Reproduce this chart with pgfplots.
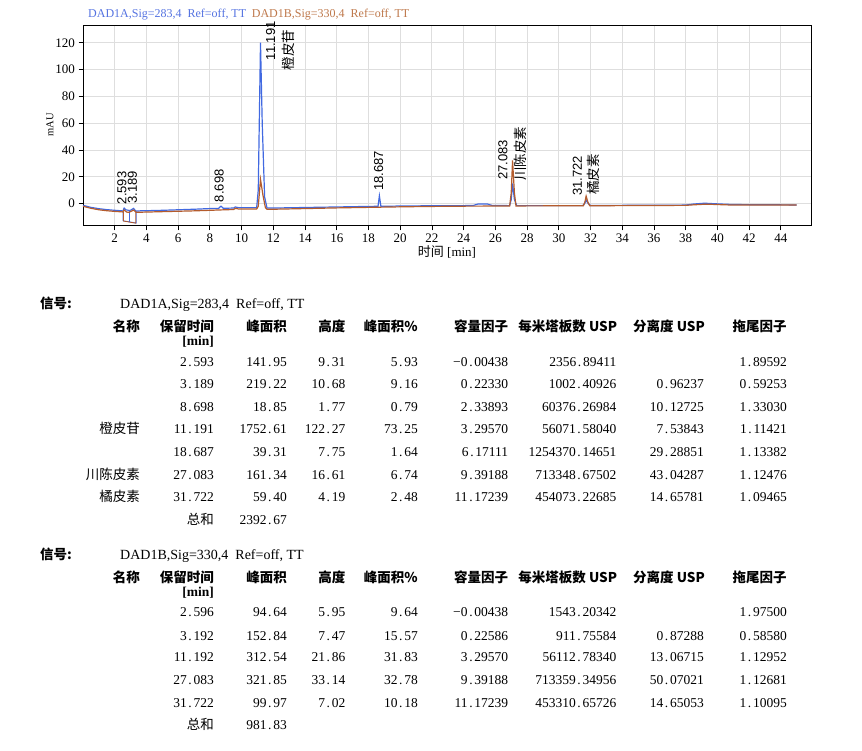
\documentclass[border=0pt]{standalone}
\usepackage{fontspec}
\usepackage{pgfplots}
\pgfplotsset{compat=1.18}
\setmainfont{Liberation Serif}
\newfontfamily\cjk{Noto Sans CJK SC}
\newfontfamily\lsans{Liberation Sans}
\definecolor{sigA}{RGB}{65,105,225}
\definecolor{sigB}{RGB}{180,92,45}
\definecolor{titA}{RGB}{85,115,225}
\definecolor{titB}{RGB}{190,120,75}
\def\N#1{\if\relax\detokenize{#1}\relax\else\Nx#1\relax\fi}
\def\Nx#1.#2\relax{#1\makebox[0.5em][c]{.}#2}
\def\tf{\fontsize{13.5pt}{14pt}\selectfont}
\tikzset{cell/.style={anchor=base east, inner sep=0pt, font=\tf},
  hd/.style={anchor=base east, inner sep=0pt, font=\tf\cjk\bfseries},
  plab/.style={rotate=90, anchor=west, inner sep=0pt, font=\lsans\fontsize{13pt}{13pt}\selectfont},
  clab/.style={rotate=90, anchor=west, inner sep=0pt, font=\cjk\fontsize{13.5pt}{13.5pt}\selectfont}}
\newcommand\Row[9]{%
  \node[cell] at (140pt,\ry) {\cjk #1};
  \node[cell] at (214pt,\ry) {\N{#2}};
  \node[cell] at (287pt,\ry) {\N{#3}};
  \node[cell] at (345.5pt,\ry) {\N{#4}};
  \node[cell] at (418pt,\ry) {\N{#5}};
  \node[cell] at (508.3pt,\ry) {\N{#6}};
  \node[cell] at (616.5pt,\ry) {\N{#7}};
  \node[cell] at (704pt,\ry) {\N{#8}};
  \node[cell] at (787pt,\ry) {\N{#9}};}
\newcommand\Header[3]{%
  \node[anchor=base west, inner sep=0pt, font=\tf\cjk\bfseries] at (40pt,#1) {信号:};
  \node[anchor=base west, inner sep=0pt, font=\fontsize{14pt}{14pt}\selectfont] at (120pt,#1) {#3};
  \node[hd] at (140pt,#2) {名称};
  \node[hd] at (214pt,#2) {保留时间};
  \node[anchor=base east, inner sep=0pt, font=\tf\bfseries] at (214pt,#2-14.3pt) {[min]};
  \node[hd] at (287pt,#2) {峰面积};
  \node[hd] at (345.5pt,#2) {高度};
  \node[hd] at (418pt,#2) {峰面积\%};
  \node[hd] at (508.3pt,#2) {容量因子};
  \node[hd] at (617.3pt,#2) {每米塔板数 USP};
  \node[hd] at (705pt,#2) {分离度 USP};
  \node[hd] at (786.7pt,#2) {拖尾因子};}
\begin{document}
\begin{tikzpicture}
\path[use as bounding box] (0pt,0pt) rectangle (862pt,750pt);
% chart title
\node[anchor=base west, inner sep=0pt, font=\fontsize{12pt}{12pt}\selectfont, text=titA] at (88pt,732pt) {DAD1A,Sig=283,4\ \ Ref=off,\ TT};
\node[anchor=base west, inner sep=0pt, font=\fontsize{12pt}{12pt}\selectfont, text=titB] at (251.7pt,732pt) {DAD1B,Sig=330,4\ \ Ref=off,\ TT};
\begin{axis}[
  at={(83pt,524pt)}, anchor=south west, scale only axis,
  width=728pt, height=200pt,
  xmin=0, xmax=45.9, ymin=-16.7, ymax=132.5,
  xtick={2,4,...,44}, ytick={0,20,...,120},
  grid=major, major grid style={draw=black!13, line width=0.9pt},
  axis line style={black, line width=1pt},
  tick align=outside, major tick length=4.5pt,
  tick style={black, line width=0.8pt},
  xtick pos=left, ytick pos=left,
  ticklabel style={font=\fontsize{13pt}{13pt}\selectfont},
  /pgf/number format/assume math mode=true,
  clip=false,
]
\addplot[sigA, line width=1.2pt] coordinates {
(0,-1.3) (0.5,-2.8) (1,-3.8) (1.5,-4.5) (2,-5) (2.45,-5.4) (2.52,-5.5)
(2.593,-3.4) (2.7,-4.6) (2.94,-5.2) (3.05,-4.6) (3.189,-3.6) (3.3,-5.2) (3.36,-5.6)
(3.6,-5.4) (4,-5.3) (5,-5) (6,-4.6) (7,-4.2) (8,-3.7) (8.55,-3.6) (8.698,-1.9)
(8.85,-3.5) (9.5,-3.3) (9.6,-2.5) (9.8,-3) (10.5,-3) (10.95,-3) (11.05,10)
(11.191,120) (11.3,60) (11.45,5) (11.6,-3.2) (12,-3.3) (14,-2.9) (16,-2.5)
(18,-2.1) (18.6,-2) (18.687,5.8) (18.78,-2) (19,-2) (20,-1.8) (22,-1.6) (24,-1.5)
(24.6,-1.4) (24.9,-0.3) (25.5,-0.3) (25.8,-1.4) (26.9,-1.5) (27.0,3) (27.083,15.1)
(27.2,3) (27.35,-1.5) (28,-1.5) (31.5,-1.5) (31.63,0) (31.722,2.7) (31.85,0)
(32,-1.4) (34,-1.3) (36,-1.2) (38,-1.1) (38.5,-0.3) (39.2,0.3) (40,-0.2) (41,-0.7)
(45,-1)
};
\addplot[sigA, line width=0.8pt] coordinates {(2.52,-5.5) (2.52,-12.8) (3.36,-14.5) (3.36,-5.6)};
\addplot[sigA, line width=0.8pt] coordinates {(2.94,-5.2) (2.94,-13.6)};
\addplot[sigB, line width=1.2pt] coordinates {
(0,-2) (0.5,-3.5) (1,-4.6) (1.5,-5.3) (2,-5.8) (2.5,-6.2) (2.596,-4.8) (2.75,-6.3)
(2.9,-6.5) (3.192,-4.8) (3.35,-6.5) (4,-6.3) (5,-6) (6,-5.7) (7,-5.4) (8,-5)
(8.7,-4.7) (9.5,-4.4) (9.6,-3.5) (9.8,-4) (10.95,-4) (11.05,-2) (11.192,18)
(11.35,6) (11.5,-3) (11.6,-4.2) (12,-4.2) (14,-3.7) (16,-3.2) (18,-2.8) (20,-2.4)
(22,-2.1) (24,-1.9) (26.9,-1.8) (27.0,8) (27.083,32.2) (27.2,8) (27.3,-1.8)
(28,-1.7) (31.55,-1.6) (31.65,1.5) (31.722,5.6) (31.82,1.5) (31.95,-1.6) (34,-1.5)
(36,-1.4) (38,-1.3) (38.5,-0.9) (39.3,-0.4) (40,-0.7) (41,-1.1) (45,-1.1)
};
\addplot[sigB, line width=0.8pt] coordinates {(2.55,-6.2) (2.55,-13.0) (3.33,-14.6) (3.33,-6.5)};
% peak labels
\node[plab] at (axis cs:2.46,-0.5) {2.593};
\node[plab] at (axis cs:3.12,-0.3) {3.189};
\node[plab] at (axis cs:8.58,1.0) {8.698};
\node[plab] at (axis cs:11.83,106.8) {11.191};
\node[clab] at (axis cs:12.93,99.5) {橙皮苷};
\node[plab] at (axis cs:18.64,9.5) {18.687};
\node[plab] at (axis cs:26.47,17.8) {27.083};
\node[clab] at (axis cs:27.57,16.8) {川陈皮素};
\node[plab] at (axis cs:31.17,5.8) {31.722};
\node[clab] at (axis cs:32.18,6.3) {橘皮素};
\end{axis}
\node[rotate=90, inner sep=0pt, font=\fontsize{10.5pt}{11pt}\selectfont] at (50pt,625pt) {mAU};
\node[inner sep=0pt, font=\fontsize{13pt}{13pt}\selectfont] at (447pt,498pt) {{\cjk 时间}\ [min]};
% table 1
\Header{441pt}{418.3pt}{DAD1A,Sig=283,4\ \ Ref=off,\ TT}
\def\ry{383.8pt}\Row{}{2.593}{141.95}{9.31}{5.93}{−0.00438}{2356.89411}{}{1.89592}
\def\ry{361.2pt}\Row{}{3.189}{219.22}{10.68}{9.16}{0.22330}{1002.40926}{0.96237}{0.59253}
\def\ry{338.2pt}\Row{}{8.698}{18.85}{1.77}{0.79}{2.33893}{60376.26984}{10.12725}{1.33030}
\def\ry{316.2pt}\Row{橙皮苷}{11.191}{1752.61}{122.27}{73.25}{3.29570}{56071.58040}{7.53843}{1.11421}
\def\ry{293.2pt}\Row{}{18.687}{39.31}{7.75}{1.64}{6.17111}{1254370.14651}{29.28851}{1.13382}
\def\ry{270.2pt}\Row{川陈皮素}{27.083}{161.34}{16.61}{6.74}{9.39188}{713348.67502}{43.04287}{1.12476}
\def\ry{248.2pt}\Row{橘皮素}{31.722}{59.40}{4.19}{2.48}{11.17239}{454073.22685}{14.65781}{1.09465}
\node[cell] at (214pt,225.5pt) {\cjk 总和};
\node[cell] at (287pt,225.5pt) {\N{2392.67}};
% table 2
\Header{190pt}{167.7pt}{DAD1B,Sig=330,4\ \ Ref=off,\ TT}
\def\ry{133.2pt}\Row{}{2.596}{94.64}{5.95}{9.64}{−0.00438}{1543.20342}{}{1.97500}
\def\ry{109.8pt}\Row{}{3.192}{152.84}{7.47}{15.57}{0.22586}{911.75584}{0.87288}{0.58580}
\def\ry{88.2pt}\Row{}{11.192}{312.54}{21.86}{31.83}{3.29570}{56112.78340}{13.06715}{1.12952}
\def\ry{65.5pt}\Row{}{27.083}{321.85}{33.14}{32.78}{9.39188}{713359.34956}{50.07021}{1.12681}
\def\ry{42.2pt}\Row{}{31.722}{99.97}{7.02}{10.18}{11.17239}{453310.65726}{14.65053}{1.10095}
\node[cell] at (214pt,20.5pt) {\cjk 总和};
\node[cell] at (287pt,20.5pt) {\N{981.83}};
\end{tikzpicture}
\end{document}
